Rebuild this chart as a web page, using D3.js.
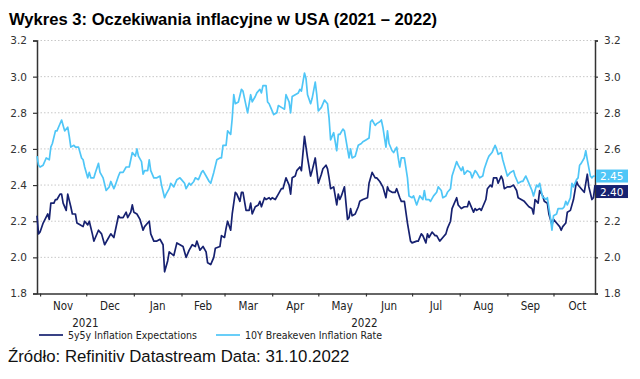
<!DOCTYPE html>
<html><head><meta charset="utf-8">
<script src="https://cdn.jsdelivr.net/npm/d3@7"></script>
<style>
body{margin:0;background:#fff;}
svg{display:block;}
</style></head>
<body>
<svg id="c" width="640" height="379"></svg>
<script>
const title = "Wykres 3: Oczekiwania inflacyjne w USA (2021 – 2022)";
const source = "Źródło: Refinitiv Datastream Data: 31.10.2022";
const seriesNames = ["5y5y Inflation Expectations", "10Y Breakeven Inflation Rate"];
const yTicks = [1.8, 2.0, 2.2, 2.4, 2.6, 2.8, 3.0, 3.2];
const monthLabels = ["Nov","Dec","Jan","Feb","Mar","Apr","May","Jun","Jul","Aug","Sep","Oct"];
const yearLabels = ["2021","2022"];
const endLabels = ["2.40","2.45"];

const dates5y5y = ["2021-10-30","2021-10-31","2021-11-01","2021-11-03","2021-11-06","2021-11-07","2021-11-08","2021-11-10","2021-11-11","2021-11-12","2021-11-14","2021-11-15","2021-11-16","2021-11-18","2021-11-19","2021-11-21","2021-11-22","2021-11-24","2021-11-25","2021-11-27","2021-11-29","2021-11-30","2021-12-02","2021-12-03","2021-12-05","2021-12-06","2021-12-07","2021-12-09","2021-12-11","2021-12-13","2021-12-15","2021-12-17","2021-12-19","2021-12-20","2021-12-22","2021-12-23","2021-12-25","2021-12-27","2021-12-28","2021-12-30","2021-12-31","2022-01-01","2022-01-03","2022-01-05","2022-01-06","2022-01-07","2022-01-08","2022-01-10","2022-01-11","2022-01-12","2022-01-14","2022-01-16","2022-01-18","2022-01-20","2022-01-21","2022-01-23","2022-01-24","2022-01-27","2022-01-29","2022-01-31","2022-02-02","2022-02-04","2022-02-06","2022-02-08","2022-02-10","2022-02-11","2022-02-13","2022-02-15","2022-02-17","2022-02-18","2022-02-20","2022-02-22","2022-02-23","2022-02-26","2022-02-27","2022-03-01","2022-03-02","2022-03-03","2022-03-05","2022-03-06","2022-03-08","2022-03-09","2022-03-11","2022-03-12","2022-03-13","2022-03-15","2022-03-17","2022-03-18","2022-03-19","2022-03-21","2022-03-23","2022-03-24","2022-03-25","2022-03-27","2022-03-28","2022-03-30","2022-03-31","2022-04-01","2022-04-03","2022-04-05","2022-04-07","2022-04-08","2022-04-10","2022-04-12","2022-04-13","2022-04-14","2022-04-16","2022-04-17","2022-04-19","2022-04-20","2022-04-22","2022-04-23","2022-04-24","2022-04-26","2022-04-27","2022-04-29","2022-04-30","2022-05-01","2022-05-03","2022-05-04","2022-05-06","2022-05-07","2022-05-08","2022-05-09","2022-05-11","2022-05-13","2022-05-14","2022-05-15","2022-05-16","2022-05-18","2022-05-20","2022-05-21","2022-05-22","2022-05-23","2022-05-25","2022-05-27","2022-05-28","2022-05-30","2022-06-02","2022-06-03","2022-06-05","2022-06-07","2022-06-08","2022-06-10","2022-06-12","2022-06-14","2022-06-15","2022-06-16","2022-06-18","2022-06-20","2022-06-21","2022-06-23","2022-06-24","2022-06-26","2022-06-28","2022-06-30","2022-07-01","2022-07-04","2022-07-05","2022-07-07","2022-07-08","2022-07-10","2022-07-11","2022-07-12","2022-07-14","2022-07-16","2022-07-17","2022-07-19","2022-07-21","2022-07-23","2022-07-24","2022-07-26","2022-07-27","2022-07-30","2022-07-31","2022-08-02","2022-08-04","2022-08-06","2022-08-07","2022-08-09","2022-08-10","2022-08-11","2022-08-12","2022-08-14","2022-08-15","2022-08-16","2022-08-18","2022-08-19","2022-08-21","2022-08-22","2022-08-23","2022-08-25","2022-08-26","2022-08-28","2022-08-29","2022-08-30","2022-09-01","2022-09-03","2022-09-05","2022-09-07","2022-09-08","2022-09-10","2022-09-12","2022-09-14","2022-09-15","2022-09-17","2022-09-18","2022-09-19","2022-09-21","2022-09-22","2022-09-24","2022-09-25","2022-09-27","2022-09-28","2022-09-30","2022-10-01","2022-10-03","2022-10-05","2022-10-06","2022-10-07","2022-10-09","2022-10-10","2022-10-12","2022-10-14","2022-10-16","2022-10-17","2022-10-20","2022-10-21","2022-10-23","2022-10-24","2022-10-26","2022-10-27","2022-10-28"];
const values5y5y = [2.23,2.13,2.14,2.19,2.24,2.21,2.30,2.30,2.32,2.32,2.35,2.35,2.30,2.26,2.35,2.28,2.24,2.24,2.19,2.18,2.17,2.20,2.18,2.20,2.13,2.09,2.11,2.15,2.13,2.07,2.10,2.13,2.11,2.15,2.23,2.22,2.22,2.25,2.22,2.25,2.29,2.25,2.24,2.21,2.18,2.15,2.17,2.19,2.20,2.13,2.09,2.09,2.10,2.07,1.92,1.98,2.03,2.01,2.08,2.07,2.06,2.00,2.04,2.07,2.06,2.09,2.04,2.06,2.03,1.97,1.96,2.00,2.05,2.06,2.12,2.11,2.16,2.20,2.15,2.24,2.36,2.35,2.31,2.36,2.36,2.26,2.26,2.30,2.24,2.28,2.29,2.31,2.28,2.33,2.32,2.33,2.32,2.33,2.32,2.35,2.38,2.38,2.44,2.40,2.35,2.44,2.45,2.48,2.50,2.48,2.67,2.61,2.55,2.45,2.48,2.55,2.48,2.41,2.46,2.49,2.51,2.49,2.44,2.38,2.39,2.29,2.35,2.32,2.34,2.39,2.21,2.22,2.27,2.23,2.24,2.28,2.31,2.32,2.33,2.41,2.47,2.44,2.44,2.42,2.39,2.33,2.39,2.37,2.36,2.36,2.38,2.33,2.31,2.31,2.19,2.09,2.08,2.09,2.09,2.13,2.12,2.08,2.13,2.11,2.14,2.12,2.12,2.09,2.11,2.13,2.16,2.20,2.27,2.33,2.29,2.27,2.28,2.28,2.31,2.27,2.25,2.27,2.26,2.27,2.26,2.28,2.32,2.38,2.40,2.39,2.44,2.44,2.41,2.45,2.43,2.38,2.39,2.39,2.40,2.37,2.33,2.32,2.31,2.29,2.28,2.27,2.24,2.32,2.30,2.37,2.34,2.31,2.30,2.24,2.18,2.21,2.19,2.17,2.15,2.17,2.19,2.25,2.26,2.32,2.42,2.40,2.37,2.36,2.46,2.39,2.32,2.33,2.40];

const dates10y = ["2021-10-30","2021-10-31","2021-11-01","2021-11-03","2021-11-05","2021-11-07","2021-11-08","2021-11-09","2021-11-11","2021-11-12","2021-11-13","2021-11-15","2021-11-16","2021-11-17","2021-11-19","2021-11-20","2021-11-21","2021-11-23","2021-11-24","2021-11-26","2021-11-28","2021-11-29","2021-11-30","2021-12-02","2021-12-03","2021-12-04","2021-12-06","2021-12-07","2021-12-09","2021-12-10","2021-12-12","2021-12-14","2021-12-16","2021-12-17","2021-12-19","2021-12-20","2021-12-22","2021-12-23","2021-12-25","2021-12-27","2021-12-29","2021-12-30","2021-12-31","2022-01-02","2022-01-03","2022-01-04","2022-01-06","2022-01-07","2022-01-08","2022-01-10","2022-01-11","2022-01-12","2022-01-14","2022-01-16","2022-01-18","2022-01-19","2022-01-21","2022-01-22","2022-01-24","2022-01-25","2022-01-27","2022-01-29","2022-01-31","2022-02-01","2022-02-03","2022-02-04","2022-02-06","2022-02-07","2022-02-09","2022-02-10","2022-02-12","2022-02-14","2022-02-15","2022-02-17","2022-02-19","2022-02-20","2022-02-22","2022-02-24","2022-02-26","2022-02-27","2022-02-28","2022-03-02","2022-03-03","2022-03-05","2022-03-06","2022-03-07","2022-03-08","2022-03-10","2022-03-12","2022-03-13","2022-03-15","2022-03-16","2022-03-18","2022-03-19","2022-03-21","2022-03-22","2022-03-24","2022-03-25","2022-03-26","2022-03-28","2022-03-29","2022-03-30","2022-03-31","2022-04-02","2022-04-04","2022-04-05","2022-04-07","2022-04-09","2022-04-10","2022-04-12","2022-04-13","2022-04-14","2022-04-16","2022-04-18","2022-04-19","2022-04-20","2022-04-22","2022-04-23","2022-04-24","2022-04-26","2022-04-27","2022-04-29","2022-04-30","2022-05-01","2022-05-03","2022-05-05","2022-05-07","2022-05-08","2022-05-09","2022-05-11","2022-05-13","2022-05-14","2022-05-15","2022-05-17","2022-05-18","2022-05-20","2022-05-21","2022-05-22","2022-05-23","2022-05-25","2022-05-27","2022-05-29","2022-05-30","2022-06-01","2022-06-03","2022-06-04","2022-06-05","2022-06-07","2022-06-08","2022-06-10","2022-06-11","2022-06-12","2022-06-14","2022-06-15","2022-06-16","2022-06-18","2022-06-19","2022-06-21","2022-06-22","2022-06-23","2022-06-24","2022-06-26","2022-06-28","2022-06-29","2022-07-01","2022-07-02","2022-07-04","2022-07-06","2022-07-08","2022-07-09","2022-07-10","2022-07-12","2022-07-13","2022-07-15","2022-07-17","2022-07-18","2022-07-20","2022-07-21","2022-07-23","2022-07-24","2022-07-26","2022-07-27","2022-07-30","2022-07-31","2022-08-02","2022-08-03","2022-08-04","2022-08-06","2022-08-08","2022-08-09","2022-08-11","2022-08-12","2022-08-14","2022-08-16","2022-08-17","2022-08-19","2022-08-20","2022-08-22","2022-08-24","2022-08-25","2022-08-26","2022-08-28","2022-08-29","2022-08-31","2022-09-01","2022-09-03","2022-09-05","2022-09-06","2022-09-08","2022-09-10","2022-09-11","2022-09-13","2022-09-14","2022-09-16","2022-09-17","2022-09-18","2022-09-20","2022-09-21","2022-09-22","2022-09-24","2022-09-25","2022-09-26","2022-09-27","2022-09-29","2022-09-30","2022-10-01","2022-10-03","2022-10-04","2022-10-05","2022-10-07","2022-10-08","2022-10-09","2022-10-10","2022-10-12","2022-10-13","2022-10-14","2022-10-16","2022-10-17","2022-10-18","2022-10-19","2022-10-21","2022-10-22","2022-10-23","2022-10-25","2022-10-26","2022-10-27","2022-10-28"];
const values10y = [2.56,2.51,2.50,2.51,2.55,2.54,2.61,2.63,2.70,2.70,2.72,2.76,2.73,2.70,2.72,2.67,2.61,2.62,2.61,2.61,2.55,2.54,2.50,2.44,2.47,2.44,2.44,2.47,2.52,2.47,2.44,2.37,2.39,2.42,2.38,2.40,2.45,2.47,2.47,2.50,2.50,2.54,2.58,2.56,2.60,2.56,2.53,2.46,2.48,2.48,2.54,2.48,2.44,2.44,2.45,2.40,2.33,2.35,2.38,2.41,2.39,2.43,2.44,2.43,2.41,2.38,2.41,2.40,2.42,2.44,2.43,2.47,2.48,2.45,2.42,2.41,2.47,2.54,2.55,2.55,2.62,2.62,2.70,2.68,2.77,2.90,2.85,2.86,2.93,2.92,2.84,2.80,2.90,2.86,2.89,2.91,2.93,2.91,2.95,2.95,2.86,2.85,2.83,2.79,2.80,2.84,2.83,2.82,2.90,2.86,2.80,2.89,2.90,2.91,2.93,2.92,3.02,2.99,2.90,2.85,2.88,2.97,2.90,2.81,2.83,2.87,2.85,2.77,2.65,2.69,2.59,2.68,2.68,2.71,2.70,2.60,2.55,2.60,2.55,2.56,2.62,2.63,2.64,2.65,2.66,2.75,2.76,2.73,2.74,2.75,2.76,2.72,2.61,2.70,2.63,2.59,2.58,2.61,2.55,2.50,2.55,2.55,2.44,2.34,2.33,2.34,2.29,2.34,2.32,2.37,2.32,2.32,2.31,2.34,2.36,2.39,2.37,2.33,2.34,2.36,2.38,2.45,2.53,2.51,2.48,2.50,2.46,2.48,2.47,2.44,2.48,2.47,2.44,2.45,2.49,2.54,2.56,2.58,2.62,2.60,2.57,2.58,2.54,2.48,2.45,2.47,2.48,2.45,2.41,2.42,2.42,2.45,2.43,2.39,2.37,2.34,2.40,2.39,2.41,2.33,2.33,2.32,2.33,2.22,2.15,2.23,2.24,2.27,2.27,2.27,2.28,2.31,2.29,2.33,2.41,2.39,2.43,2.44,2.51,2.52,2.55,2.59,2.54,2.45,2.44,2.45,2.45];

const colors = ["#162170", "#4fc6f7"];

const parse = d3.timeParse("%Y-%m-%d");
const series = [
  {name: seriesNames[0], color: colors[0], data: dates5y5y.map((d,i)=>({date: parse(d), value: values5y5y[i]}))},
  {name: seriesNames[1], color: colors[1], data: dates10y.map((d,i)=>({date: parse(d), value: values10y[i]}))}
];

const svg = d3.select("#c");
const L = 37, R = 595, T = 40.5, B = 293.5;
const x = d3.scaleTime().domain([parse("2021-10-30"), parse("2022-10-28")]).range([L, R]);
const y = d3.scaleLinear().domain([1.8, 3.2]).range([B, T]);

// end label positions (with overlap avoidance)
const ends = series.map((s,i)=>({color: s.color, text: endLabels[i], yy: y(s.data[s.data.length-1].value)}));
const order = ends.slice().sort((a,b)=>a.yy-b.yy);
const h = 13, gap = 15.5;
for (let i = 1; i < order.length; i++) {
  if (order[i].yy - order[i-1].yy < gap) order[i].yy = order[i-1].yy + gap;
}

// title
svg.append("text").attr("x", 9).attr("y", 25)
  .attr("font-family", "Liberation Sans, Arial, sans-serif").attr("font-weight", "bold")
  .attr("font-size", 16.6).attr("fill", "#000").text(title);

// grid
svg.append("g").selectAll("line").data(yTicks.slice(1)).join("line")
  .attr("x1", L).attr("x2", R).attr("y1", d=>y(d)).attr("y2", d=>y(d))
  .attr("stroke", "#c8c8c8").attr("stroke-width", 1).attr("stroke-dasharray", "1.5,2");

const numFont = "DejaVu Sans, Verdana, sans-serif";
// left axis
const gl = svg.append("g").attr("transform", `translate(${L},0)`)
  .call(d3.axisLeft(y).tickValues(yTicks).tickFormat(d3.format(".1f")).tickSize(4).tickPadding(6));
// right axis (labels hidden where the end labels sit)
const rightTicks = yTicks.filter(t => ends.every(e => Math.abs(y(t) - e.yy) > 11));
const gr = svg.append("g").attr("transform", `translate(${R},0)`)
  .call(d3.axisRight(y).tickValues(rightTicks).tickFormat(d3.format(".1f")).tickSize(3).tickPadding(6));
[gl, gr].forEach(g => {
  g.select(".domain").attr("stroke", "#333").attr("stroke-width", 1.5);
  g.selectAll(".tick line").attr("stroke", "#333").attr("stroke-width", 1.2);
  g.selectAll(".tick text").attr("font-family", numFont).attr("font-size", 10.5).attr("fill", "#333");
});

// bottom axis
const monthStarts = d3.timeMonth.range(parse("2021-11-01"), parse("2022-10-02"));
const gb = svg.append("g").attr("transform", `translate(0,${B})`)
  .call(d3.axisBottom(x).tickValues(monthStarts).tickFormat("").tickSize(3).tickSizeOuter(0));
gb.select(".domain").attr("stroke", "#333").attr("stroke-width", 1.5);
gb.selectAll(".tick line").attr("stroke", "#333").attr("stroke-width", 1.2);

const narrow = "Liberation Sans Narrow, Arial Narrow, DejaVu Sans Condensed, sans-serif";
// month labels centred in month intervals
svg.append("g").selectAll("text").data(monthStarts).join("text")
  .attr("x", (d,i) => (x(d) + x(d3.timeMonth.offset(d,1))) / 2)
  .attr("y", 310).attr("text-anchor", "middle")
  .attr("font-family", narrow).attr("font-size", 11.5).attr("fill", "#222")
  .text((d,i) => monthLabels[i]);

// year labels centred on year spans
const yearSpans = [[x.domain()[0], parse("2022-01-01")], [parse("2022-01-01"), x.domain()[1]]];
svg.append("g").selectAll("text").data(yearSpans).join("text")
  .attr("x", d => (x(d[0]) + x(d[1])) / 2).attr("y", 327).attr("text-anchor", "middle")
  .attr("font-family", narrow).attr("font-size", 11.5).attr("fill", "#222")
  .text((d,i) => yearLabels[i]);

// lines
const line = d3.line().x(d=>x(d.date)).y(d=>y(d.value));
svg.append("g").selectAll("path").data(series).join("path")
  .attr("d", d=>line(d.data)).attr("fill", "none")
  .attr("stroke", d=>d.color).attr("stroke-width", 1.7).attr("stroke-linejoin", "round");

// end labels
const eg = svg.append("g").selectAll("g").data(ends).join("g");
eg.append("rect").attr("x", R + 1).attr("y", d=>d.yy - h/2).attr("width", 32).attr("height", h).attr("fill", d=>d.color);
eg.append("text").attr("x", R + 5).attr("y", d=>d.yy + 4)
  .attr("font-family", numFont).attr("font-size", 10.5).attr("fill", "#fff").text(d=>d.text);

// legend
const lg = svg.append("g").selectAll("g").data(series).join("g")
  .attr("transform", (d,i)=>`translate(${i === 0 ? 39 : 216},335)`);
lg.append("line").attr("x1", 0).attr("x2", 24).attr("stroke", d=>d.color).attr("stroke-width", 1.7);
lg.append("text").attr("x", 29).attr("y", 4)
  .attr("font-family", narrow).attr("font-size", 10.5).attr("fill", "#222").text(d=>d.name);

// source
svg.append("text").attr("x", 8).attr("y", 362)
  .attr("font-family", "Liberation Sans, Arial, sans-serif").attr("font-size", 16.8).attr("fill", "#111").text(source);
</script>
</body></html>
